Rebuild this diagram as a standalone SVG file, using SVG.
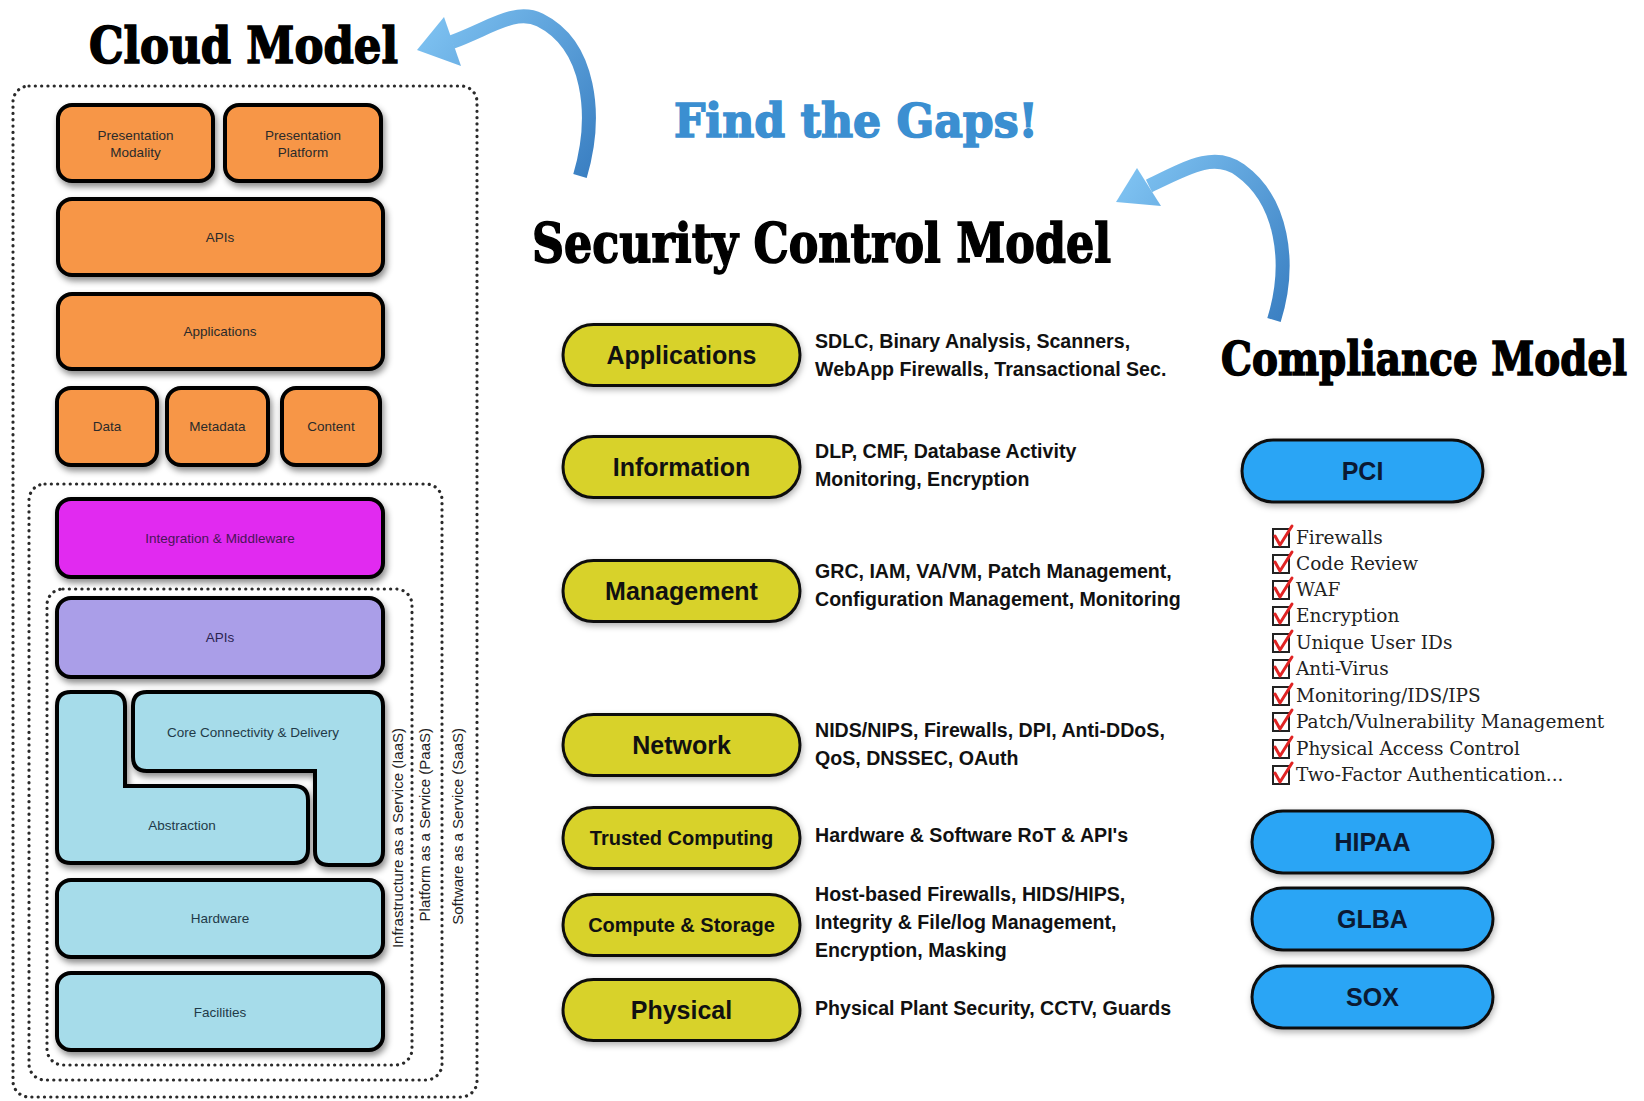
<svg xmlns="http://www.w3.org/2000/svg" width="1644" height="1101" viewBox="0 0 1644 1101">
<style>
.title{font-family:"DejaVu Serif","Liberation Serif",serif;font-weight:bold;fill:#000;stroke:#000;stroke-width:1.6}
.box{stroke:#000;stroke-width:4;filter:url(#sh)}
.or{fill:#f79646}.mg{fill:#e12af0}.pu{fill:#aa9ee8}.lb{fill:#a6dcea}
.lbl{font-family:"Liberation Sans",Arial,sans-serif;font-size:13.5px;fill:#2a2a2a;text-anchor:middle}
.vl{font-family:"Liberation Sans",Arial,sans-serif;font-size:15px;fill:#222;text-anchor:end}
.dot{fill:none;stroke:#2a2a2a;stroke-width:3.2;stroke-dasharray:0.1 6.2;stroke-linecap:round}
.py{fill:#d8d22c;stroke:#111;stroke-width:3;filter:url(#sh2)}
.pb{fill:#29a5f5;stroke:#111;stroke-width:3;filter:url(#sh2)}
.pl{font-family:"Liberation Sans",Arial,sans-serif;font-weight:bold;font-size:25px;fill:#111;text-anchor:middle}
.pls{font-family:"Liberation Sans",Arial,sans-serif;font-weight:bold;font-size:20px;fill:#111;text-anchor:middle}
.pc{font-family:"Liberation Sans",Arial,sans-serif;font-weight:bold;font-size:25px;fill:#0b1a33;text-anchor:middle}
.desc{font-family:"Liberation Sans",Arial,sans-serif;font-weight:bold;font-size:19.6px;fill:#111}
.ck{font-family:"DejaVu Serif","Liberation Serif",serif;font-size:18.5px;fill:#222}
.cbx{fill:#fff;stroke:#222;stroke-width:2}
.cm{fill:none;stroke:#e02424;stroke-width:3;stroke-linecap:round;stroke-linejoin:round}
.div{stroke:#000;stroke-width:3;filter:url(#sh2)}
.arr{fill:none;stroke-width:14}
</style>
<defs>
<filter id="sh" x="-10%" y="-10%" width="130%" height="140%">
<feDropShadow dx="2" dy="4" stdDeviation="3" flood-color="#000" flood-opacity="0.45"/>
</filter>
<filter id="sh2" x="-10%" y="-10%" width="130%" height="140%">
<feDropShadow dx="1" dy="3" stdDeviation="3" flood-color="#000" flood-opacity="0.3"/>
</filter>
<linearGradient id="g1" gradientUnits="userSpaceOnUse" x1="420" y1="40" x2="590" y2="176">
<stop offset="0" stop-color="#7cc0f0"/><stop offset="1" stop-color="#3a7fc2"/>
</linearGradient>
<linearGradient id="g2" gradientUnits="userSpaceOnUse" x1="1117" y1="200" x2="1285" y2="320">
<stop offset="0" stop-color="#7cc0f0"/><stop offset="1" stop-color="#3a7fc2"/>
</linearGradient>
</defs>
<rect width="1644" height="1101" fill="#fff"/>

<!-- titles -->
<text id="t-cloud" class="title" x="89" y="63" font-size="50" textLength="309" lengthAdjust="spacingAndGlyphs">Cloud Model</text>
<text id="t-gaps" class="title" x="674" y="137" font-size="46" textLength="364" lengthAdjust="spacingAndGlyphs" style="fill:#3b8fd1;stroke:#3b8fd1">Find the Gaps!</text>
<text id="t-sec" class="title" x="532" y="262" font-size="54" textLength="579" lengthAdjust="spacingAndGlyphs">Security Control Model</text>
<text id="t-comp" class="title" x="1221" y="375" font-size="47" textLength="406" lengthAdjust="spacingAndGlyphs">Compliance Model</text>

<!-- connectors -->
<g id="connectors">
<path class="arr" stroke="url(#g1)" d="M580,176 C598,115 590,45 540,20 C515,8 490,28 452,42"/>
<polygon fill="url(#g1)" points="417,50 444,17 461,66"/>
<path class="arr" stroke="url(#g2)" d="M1274,320 C1292,262 1282,200 1240,170 C1215,152 1190,166 1149,186"/>
<polygon fill="url(#g2)" points="1116,202 1137,168 1161,206"/>
</g>

<!-- dividers -->
<line class="div" x1="524" y1="176" x2="524" y2="1054"/>
<line class="div" x1="1211" y1="286" x2="1211" y2="1055"/>

<!-- cloud model dotted containers -->
<g id="saas"><rect class="dot" x="13" y="86" width="464" height="1011" rx="16"/>
<text class="vl" transform="translate(463,728) rotate(-90)">Software as a Service (SaaS)</text></g>
<g id="paas"><rect class="dot" x="29" y="484" width="413" height="596" rx="16"/>
<text class="vl" transform="translate(430,728) rotate(-90)">Platform as a Service (PaaS)</text></g>
<g id="iaas"><rect class="dot" x="47" y="589" width="365" height="476" rx="16"/>
<text class="vl" transform="translate(403,728) rotate(-90)">Infrastructure as a Service (IaaS)</text></g>

<!-- cloud model boxes -->
<g id="pres-modality"><rect class="box or" x="58" y="105" width="155" height="76" rx="14"/>
<text class="lbl" x="135.5" y="140">Presentation</text><text class="lbl" x="135.5" y="157">Modality</text></g>
<g id="pres-platform"><rect class="box or" x="225" y="105" width="156" height="76" rx="14"/>
<text class="lbl" x="303" y="140">Presentation</text><text class="lbl" x="303" y="157">Platform</text></g>
<g id="apis-top"><rect class="box or" x="58" y="199" width="325" height="76" rx="14"/>
<text class="lbl" x="220" y="242">APIs</text></g>
<g id="applications-c"><rect class="box or" x="58" y="294" width="325" height="75" rx="14"/>
<text class="lbl" x="220" y="336">Applications</text></g>
<g id="data"><rect class="box or" x="57" y="388" width="100" height="77" rx="14"/>
<text class="lbl" x="107" y="431">Data</text></g>
<g id="metadata"><rect class="box or" x="167" y="388" width="101" height="77" rx="14"/>
<text class="lbl" x="217.5" y="431">Metadata</text></g>
<g id="content"><rect class="box or" x="282" y="388" width="98" height="77" rx="14"/>
<text class="lbl" x="331" y="431">Content</text></g>
<g id="integration"><rect class="box mg" x="57" y="499" width="326" height="78" rx="14"/>
<text class="lbl" x="220" y="543" style="fill:#4a1458">Integration &amp; Middleware</text></g>
<g id="apis-mid"><rect class="box pu" x="57" y="598" width="326" height="79" rx="14"/>
<text class="lbl" x="220" y="642" style="fill:#2a2450">APIs</text></g>
<g id="abstraction"><path class="box lb" d="M71,692 H111 Q125,692 125,706 V786 H294 Q308,786 308,800 V849 Q308,863 294,863 H71 Q57,863 57,849 V706 Q57,692 71,692 Z"/>
<text class="lbl" x="182" y="830" style="fill:#1f3a48">Abstraction</text></g>
<g id="core"><path class="box lb" d="M147,692 H369 Q383,692 383,706 V851 Q383,865 369,865 H329 Q315,865 315,851 V771 H147 Q133,771 133,757 V706 Q133,692 147,692 Z"/>
<text class="lbl" x="253" y="737" style="fill:#1f3a48">Core Connectivity &amp; Delivery</text></g>
<g id="hardware"><rect class="box lb" x="57" y="880" width="326" height="77" rx="14"/>
<text class="lbl" x="220" y="923" style="fill:#1f3a48">Hardware</text></g>
<g id="facilities"><rect class="box lb" x="57" y="973" width="326" height="77" rx="14"/>
<text class="lbl" x="220" y="1017" style="fill:#1f3a48">Facilities</text></g>

<!-- security control model -->
<g id="sc-applications"><rect class="py" x="563" y="324.5" width="237" height="61" rx="30.5"/>
<text class="pl" x="681.5" y="364">Applications</text>
<text class="desc" x="815" y="348">SDLC, Binary Analysis, Scanners,</text>
<text class="desc" x="815" y="376">WebApp Firewalls, Transactional Sec.</text></g>
<g id="sc-information"><rect class="py" x="563" y="436.5" width="237" height="61" rx="30.5"/>
<text class="pl" x="681.5" y="476">Information</text>
<text class="desc" x="815" y="458">DLP, CMF, Database Activity</text>
<text class="desc" x="815" y="486">Monitoring, Encryption</text></g>
<g id="sc-management"><rect class="py" x="563" y="560.5" width="237" height="61" rx="30.5"/>
<text class="pl" x="681.5" y="600">Management</text>
<text class="desc" x="815" y="578">GRC, IAM, VA/VM, Patch Management,</text>
<text class="desc" x="815" y="606">Configuration Management, Monitoring</text></g>
<g id="sc-network"><rect class="py" x="563" y="714.5" width="237" height="61" rx="30.5"/>
<text class="pl" x="681.5" y="754">Network</text>
<text class="desc" x="815" y="737">NIDS/NIPS, Firewalls, DPI, Anti-DDoS,</text>
<text class="desc" x="815" y="765">QoS, DNSSEC, OAuth</text></g>
<g id="sc-trusted"><rect class="py" x="563" y="807.5" width="237" height="61" rx="30.5"/>
<text class="pls" x="681.5" y="845">Trusted Computing</text>
<text class="desc" x="815" y="842">Hardware &amp; Software RoT &amp; API's</text></g>
<g id="sc-compute"><rect class="py" x="563" y="894.5" width="237" height="61" rx="30.5"/>
<text class="pls" x="681.5" y="932">Compute &amp; Storage</text>
<text class="desc" x="815" y="901">Host-based Firewalls, HIDS/HIPS,</text>
<text class="desc" x="815" y="929">Integrity &amp; File/log Management,</text>
<text class="desc" x="815" y="957">Encryption, Masking</text></g>
<g id="sc-physical"><rect class="py" x="563" y="979.5" width="237" height="61" rx="30.5"/>
<text class="pl" x="681.5" y="1019">Physical</text>
<text class="desc" x="815" y="1015">Physical Plant Security, CCTV, Guards</text></g>

<!-- compliance model -->
<g id="pci"><rect class="pb" x="1242" y="440" width="241" height="62" rx="31"/>
<text class="pc" x="1362.5" y="480">PCI</text></g>
<g id="pci-checklist">
<g><rect class="cbx" x="1273" y="529" width="16" height="18"/><path class="cm" d="M1275,536 L1280,545 L1292,526"/><text class="ck" x="1296" y="544">Firewalls</text></g>
<g><rect class="cbx" x="1273" y="555" width="16" height="18"/><path class="cm" d="M1275,562 L1280,571 L1292,552"/><text class="ck" x="1296" y="570">Code Review</text></g>
<g><rect class="cbx" x="1273" y="581" width="16" height="18"/><path class="cm" d="M1275,588 L1280,597 L1292,578"/><text class="ck" x="1296" y="596">WAF</text></g>
<g><rect class="cbx" x="1273" y="607" width="16" height="18"/><path class="cm" d="M1275,614 L1280,623 L1292,604"/><text class="ck" x="1296" y="622">Encryption</text></g>
<g><rect class="cbx" x="1273" y="634" width="16" height="18"/><path class="cm" d="M1275,641 L1280,650 L1292,631"/><text class="ck" x="1296" y="649">Unique User IDs</text></g>
<g><rect class="cbx" x="1273" y="660" width="16" height="18"/><path class="cm" d="M1275,667 L1280,676 L1292,657"/><text class="ck" x="1296" y="675">Anti-Virus</text></g>
<g><rect class="cbx" x="1273" y="687" width="16" height="18"/><path class="cm" d="M1275,694 L1280,703 L1292,684"/><text class="ck" x="1296" y="702">Monitoring/IDS/IPS</text></g>
<g><rect class="cbx" x="1273" y="713" width="16" height="18"/><path class="cm" d="M1275,720 L1280,729 L1292,710"/><text class="ck" x="1296" y="728">Patch/Vulnerability Management</text></g>
<g><rect class="cbx" x="1273" y="740" width="16" height="18"/><path class="cm" d="M1275,747 L1280,756 L1292,737"/><text class="ck" x="1296" y="755">Physical Access Control</text></g>
<g><rect class="cbx" x="1273" y="766" width="16" height="18"/><path class="cm" d="M1275,773 L1280,782 L1292,763"/><text class="ck" x="1296" y="781">Two-Factor Authentication...</text></g>
</g>
<g id="hipaa"><rect class="pb" x="1252" y="811" width="241" height="62" rx="31"/>
<text class="pc" x="1372.5" y="851">HIPAA</text></g>
<g id="glba"><rect class="pb" x="1252" y="888" width="241" height="62" rx="31"/>
<text class="pc" x="1372.5" y="928">GLBA</text></g>
<g id="sox"><rect class="pb" x="1252" y="966" width="241" height="62" rx="31"/>
<text class="pc" x="1372.5" y="1006">SOX</text></g>
</svg>
